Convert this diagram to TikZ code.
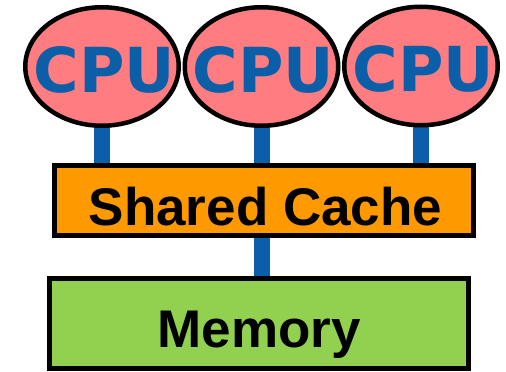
\documentclass[tikz,border=0pt]{standalone}
\usepackage{fontspec}
\setmainfont{Liberation Sans}
\newfontfamily\cpufont{DejaVu Sans}
\usetikzlibrary{shapes.geometric,backgrounds}
\definecolor{cpupink}{HTML}{FF7C80}
\definecolor{linkblue}{HTML}{0B5EA8}
\definecolor{cacheorange}{HTML}{FF9900}
\definecolor{memgreen}{HTML}{92D050}
\tikzset{
  core/.style={ellipse, draw=black, line width=4.5pt, fill=cpupink,
    minimum width=153.5pt, minimum height=118.5pt, inner sep=0pt},
  corelabel/.style={anchor=base, inner sep=0pt, text=linkblue,
    font=\cpufont\bfseries\fontsize{62}{70}\selectfont},
  block/.style={rectangle, draw=black, line width=5pt, inner sep=0pt,
    minimum width=419pt},
  blocklabel/.style={anchor=base, inner sep=0pt, text=black,
    font=\bfseries\fontsize{53}{60}\selectfont},
  link/.style={draw=linkblue, line width=16pt}
}
\begin{document}
\begin{tikzpicture}[x=1pt,y=-1pt]
  \useasboundingbox (0,0) rectangle (506,372);

  % processors
  \node[core] (cpu1) at (102,66.5) {};
  \node[core] (cpu2) at (261.5,66.5) {};
  \node[core] (cpu3) at (421,66) {};
  \node[corelabel] (cpu1text) at (104.5,92) {CPU};
  \node[corelabel] (cpu2text) at (263.5,92) {CPU};
  \node[corelabel] (cpu3text) at (423.5,91.5) {CPU};

  % shared cache and main memory
  \node[block, fill=cacheorange, minimum height=70pt] (cache) at (264,200.5) {};
  \node[block, fill=memgreen, minimum height=90pt] (mem) at (259,323.5) {};
  \node[blocklabel] (cachetext) at (265.5,225) {Shared Cache};
  \node[blocklabel] (memtext) at (259,347) {Memory};

  % bus links behind the boxes
  \begin{pgfonlayer}{background}
    \path[link] (cpu1.center) -- (cpu1.center |- cache.center);
    \path[link] (cpu2.center) -- (cpu2.center |- cache.center);
    \path[link] (cpu3.center) -- (cpu3.center |- cache.center);
    \path[link] (cache.center -| cpu2.center) -- (mem.center -| cpu2.center);
  \end{pgfonlayer}
\end{tikzpicture}
\end{document}
